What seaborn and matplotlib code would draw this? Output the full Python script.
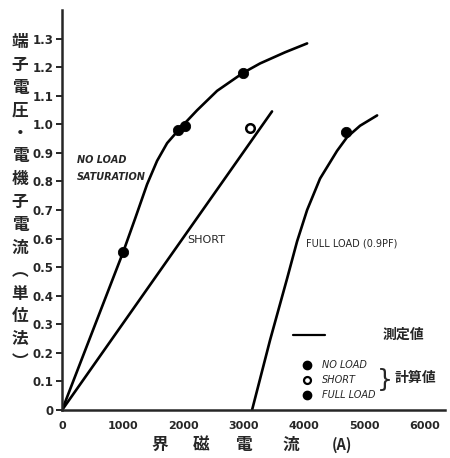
import numpy as np
import pandas as pd
import matplotlib
matplotlib.use("Agg")
import matplotlib.pyplot as plt
import seaborn as sns

# ---- data ----
noload_x = [0, 1008, 1207, 1405, 1570, 1736, 1950, 2231, 2562, 2992, 3273, 3686, 4050]
noload_y = [0, 0.552, 0.670, 0.790, 0.872, 0.934, 0.986, 1.049, 1.117, 1.18, 1.213, 1.252, 1.283]
short_x = [0, 3470]
short_y = [0, 1.045]
full_x = [3140, 3438, 3719, 3884, 4050, 4264, 4545, 4711, 4926, 5207]
full_y = [0, 0.245, 0.46, 0.59, 0.70, 0.81, 0.907, 0.955, 0.995, 1.031]

calc_noload_x = [1008, 1917, 2033, 2992]
calc_noload_y = [0.552, 0.979, 0.993, 1.18]
calc_short_x = [3107]
calc_short_y = [0.986]
calc_full_x = [4694]
calc_full_y = [0.972]

xticks = [0, 1000, 2000, 3000, 4000, 5000, 6000]
yticks = [0, 0.1, 0.2, 0.3, 0.4, 0.5, 0.6, 0.7, 0.8, 0.9, 1.0, 1.1, 1.2, 1.3]
ytick_labels = ["0", "0.1", "0.2", "0.3", "0.4", "0.5", "0.6", "0.7", "0.8",
                "0.9", "1.0", "1.1", "1.2", "1.3"]
ylabel_chars = ["端", "子", "電", "圧", "・", "電", "機", "子", "電", "流",
                "︵", "単", "位", "法", "︶"]
xlabel_parts = ["界", "磁", "電", "流", "(A)"]

sns.set_style("ticks")
plt.rcParams['font.family'] = ['DejaVu Sans', 'Noto Sans CJK JP']
CJK = ['Noto Sans CJK JP', 'DejaVu Sans']

fig = plt.figure(figsize=(4.5, 4.58), dpi=100)
ax = fig.add_axes([0.138, 0.1048, 0.851, 0.8734])

lw = 1.9
sns.lineplot(x=noload_x, y=noload_y, ax=ax, color="black", lw=lw,
             estimator=None, sort=False)
sns.lineplot(x=short_x, y=short_y, ax=ax, color="black", lw=lw,
             estimator=None, sort=False)
sns.lineplot(x=full_x, y=full_y, ax=ax, color="black", lw=lw,
             estimator=None, sort=False)

sns.scatterplot(x=calc_noload_x, y=calc_noload_y, ax=ax, color="black",
                s=55, edgecolor="black", zorder=5)
sns.scatterplot(x=calc_full_x, y=calc_full_y, ax=ax, color="black",
                s=55, edgecolor="black", zorder=5)
ax.scatter(calc_short_x, calc_short_y, s=38, facecolor="white",
           edgecolor="black", linewidth=1.8, zorder=5)

ax.set_xlim(0, 6330)
ax.set_ylim(0, 1.4)
ax.set_xticks(xticks)
ax.set_xticklabels([str(v) for v in xticks], fontsize=8, fontweight="bold")
ax.set_yticks(yticks)
ax.set_yticklabels(ytick_labels, fontsize=8.5, fontweight="bold")
ax.tick_params(axis="x", length=0, pad=8)
ax.tick_params(axis="y", length=4, width=1.4, pad=2)
for s in ["top", "right"]:
    ax.spines[s].set_visible(False)
for s in ["left", "bottom"]:
    ax.spines[s].set_linewidth(1.8)
ax.set_xlabel("")
ax.set_ylabel("")

# curve labels
ax.text(250, 0.875, "NO LOAD", fontsize=7, style="italic", fontweight="bold",
        va="center")
ax.text(250, 0.815, "SATURATION", fontsize=7, style="italic", fontweight="bold",
        va="center")
ax.text(2070, 0.595, "SHORT", fontsize=8, va="center")
ax.text(4030, 0.583, "FULL LOAD (0.9PF)", fontsize=7, va="center")

# legend (hand-made)
tr = ax.transAxes
ax.plot([0.603, 0.687], [0.1875, 0.1875], color="black", lw=1.6, transform=tr)
ax.text(0.836, 0.187, "測定値", fontsize=10, fontweight="bold", family=CJK,
        va="center", transform=tr)
ax.plot([0.64], [0.1125], "o", color="black", ms=6, transform=tr)
ax.plot([0.64], [0.075], "o", mfc="white", mec="black", mew=1.6, ms=5,
        transform=tr)
ax.plot([0.64], [0.0375], "o", color="black", ms=6, transform=tr)
ax.text(0.679, 0.1125, "NO LOAD", fontsize=7, style="italic", va="center",
        transform=tr)
ax.text(0.679, 0.075, "SHORT", fontsize=7, style="italic", va="center",
        transform=tr)
ax.text(0.679, 0.0375, "FULL LOAD", fontsize=7, style="italic", va="center",
        transform=tr)
ax.text(0.843, 0.075, "}", fontsize=18, ha="center", va="center", transform=tr)
ax.text(0.868, 0.08, "計算値", fontsize=10, fontweight="bold", family=CJK,
        va="center", transform=tr)

# vertical y label
ylab = "\n".join(ylabel_chars)
fig.text(20 / 450, 1 - 202 / 458, ylab, fontsize=12, fontweight="bold",
         family=CJK, ha="center", va="center", linespacing=1.35)

# x label
xpos = [160, 201, 243, 291, 342]
for ch, px in zip(xlabel_parts, xpos):
    fig.text(px / 450, 1 - 445 / 458, ch,
             fontsize=12 if ch != "(A)" else 10.5, fontweight="bold",
             family=CJK, ha="center", va="center")

fig.savefig("out.png", dpi=100)
